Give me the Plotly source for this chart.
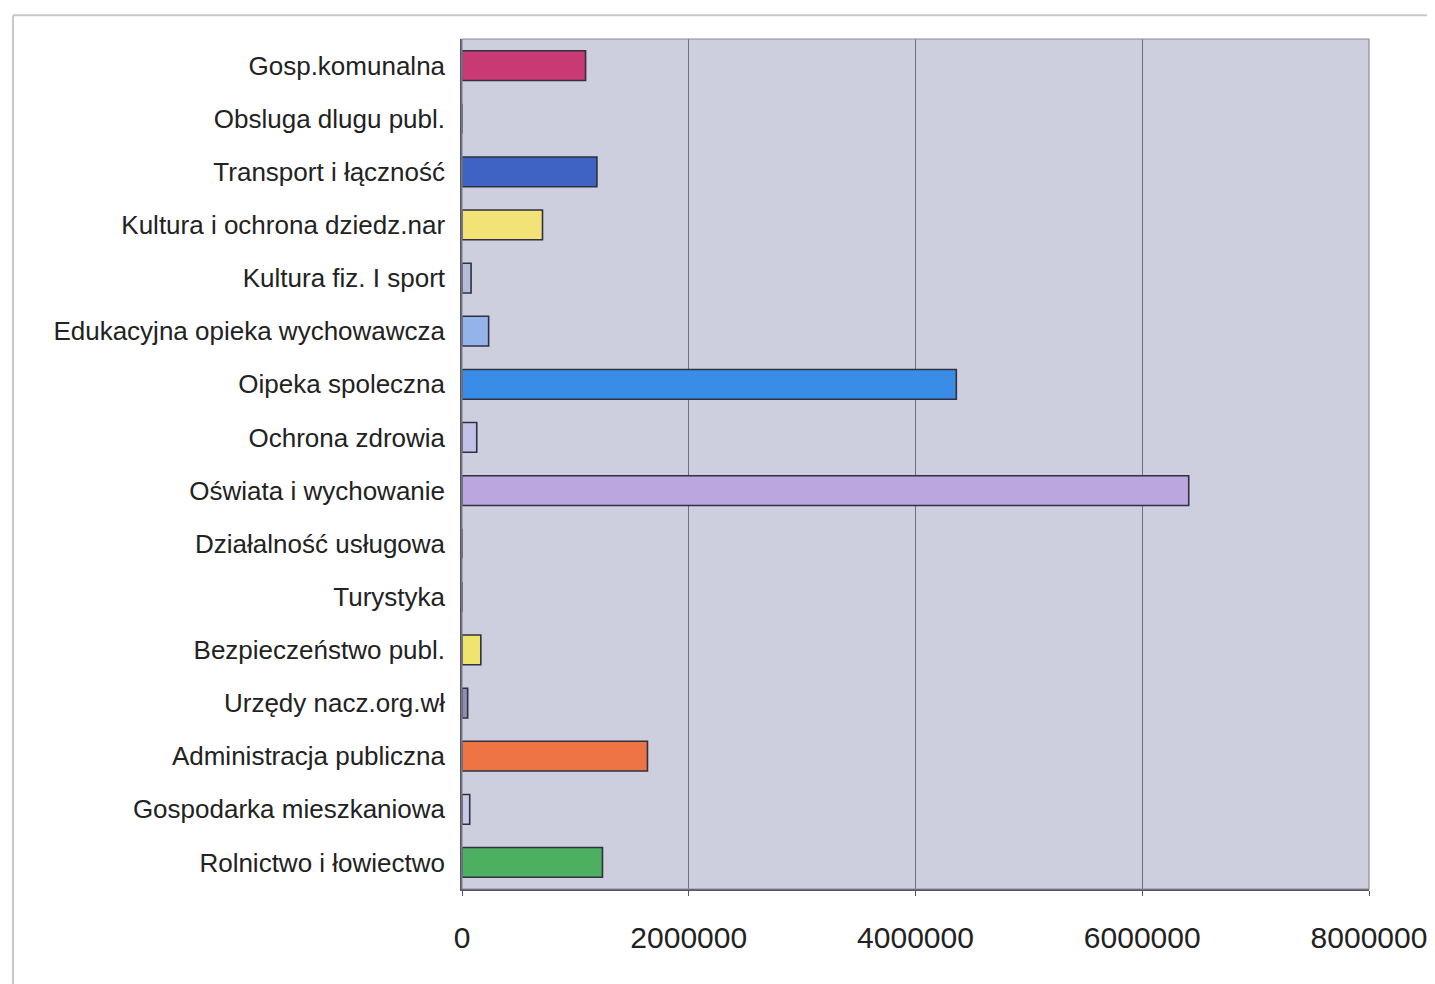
import plotly.graph_objects as go

categories = [
    "Gosp.komunalna",
    "Obsluga dlugu publ.",
    "Transport i łączność",
    "Kultura i ochrona dziedz.nar",
    "Kultura fiz. I sport",
    "Edukacyjna opieka wychowawcza",
    "Oipeka spoleczna",
    "Ochrona zdrowia",
    "Oświata i wychowanie",
    "Działalność usługowa",
    "Turystyka",
    "Bezpieczeństwo publ.",
    "Urzędy nacz.org.wł",
    "Administracja publiczna",
    "Gospodarka mieszkaniowa",
    "Rolnictwo i łowiectwo",
]
values = [
    1090000, 0, 1190000, 710000, 80000, 235000, 4360000, 130000,
    6410000, 0, 0, 166000, 50000, 1636000, 68000, 1239000,
]
bar_colors = [
    "#C93A74", "#C0C0DC", "#3F63C4", "#F3E276", "#B6BBD8", "#94B3EA",
    "#3A8DE6", "#C2C2E6", "#BBA6E0", "#C0C0DC", "#C0C0DC", "#EEE46E",
    "#8C90B0", "#EE7446", "#C8CAE4", "#4DB061",
]
x_ticks = [0, 2000000, 4000000, 6000000, 8000000]

fig = go.Figure(
    go.Bar(
        x=values,
        y=categories,
        orientation="h",
        marker=dict(color=bar_colors, line=dict(color="#303040", width=1.6)),
        width=0.56,
        hoverinfo="x+y",
    )
)

# plot area spans ~907 px wide, ~850 px tall
fig.update_layout(
    width=1435,
    height=984,
    margin=dict(l=454, r=74, t=31, b=103),
    paper_bgcolor="white",
    plot_bgcolor="#CDCFDF",
    showlegend=False,
    font=dict(family="Liberation Sans, Arial, sans-serif", color="#222222"),
    shapes=[
        dict(type="line", xref="paper", yref="paper",
             x0=-0.495, x1=1.1, y0=1.028, y1=1.028,
             line=dict(color="#C8C8C8", width=2)),
        dict(type="line", xref="paper", yref="paper",
             x0=-0.495, x1=-0.495, y0=1.028, y1=-0.13,
             line=dict(color="#C8C8C8", width=2)),
        dict(type="rect", xref="paper", yref="paper",
             x0=0, x1=1, y0=0, y1=1,
             line=dict(color="#8A8A98", width=1.2)),
    ],
)

fig.update_xaxes(
    range=[0, 8000000],
    tickvals=x_ticks,
    ticktext=[str(v) for v in x_ticks],
    showgrid=True,
    gridcolor="#6E6E7E",
    gridwidth=1,
    zeroline=False,
    showline=True,
    linecolor="#555560",
    linewidth=1.5,
    ticks="outside",
    ticklen=5,
    tickcolor="#555560",
    tickfont=dict(size=30, color="#222222"),
    ticklabelstandoff=16,
)

fig.update_yaxes(
    autorange="reversed",
    showgrid=False,
    showline=True,
    linecolor="#555560",
    linewidth=1.5,
    ticks="",
    tickfont=dict(size=26, color="#222222"),
    ticklabelstandoff=10,
)

fig.write_html("out.html")
